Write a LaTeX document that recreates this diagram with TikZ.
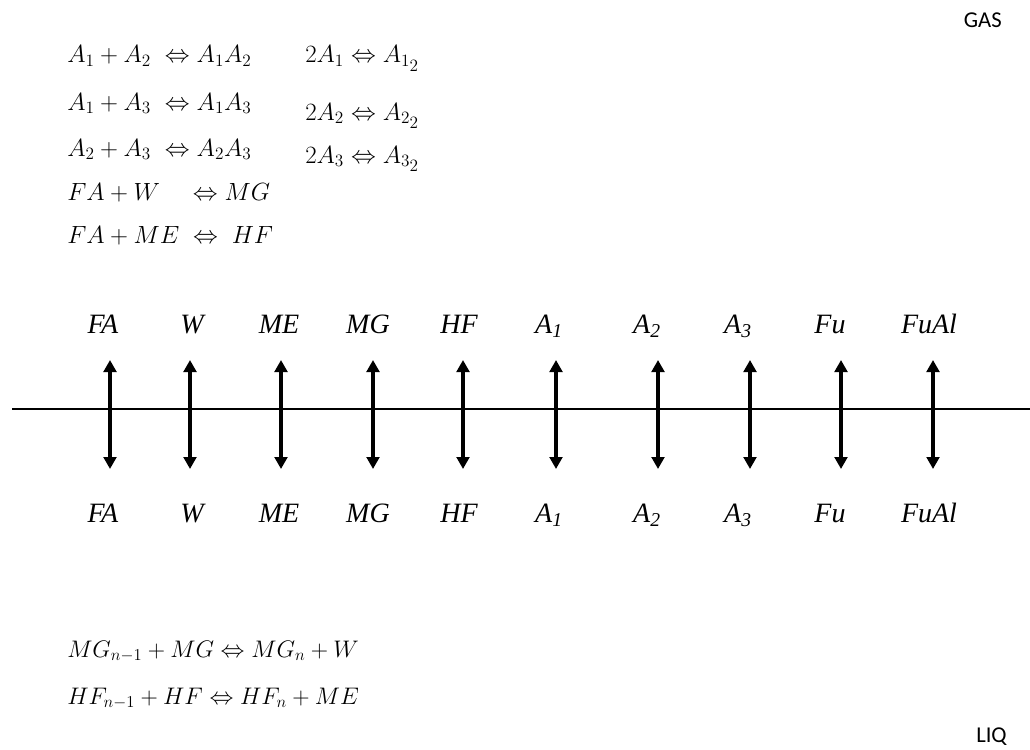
\documentclass[tikz,border=0pt]{standalone}
\usepackage{fontspec}
\usepackage{graphicx}
\newfontfamily\lblfont{Liberation Serif}
\newfontfamily\phasefont{Carlito}
\usetikzlibrary{arrows.meta, positioning}
\newcommand{\eqs}[2][1.08]{\scalebox{#1}{$#2$}}

\begin{document}
\begin{tikzpicture}[x=0.75pt, y=-0.75pt,
    eqn/.style={anchor=base west, inner sep=0pt, font=\fontsize{18}{22}\selectfont},
    spec/.style={anchor=base, inner sep=0pt, font=\lblfont\itshape\fontsize{21}{24}\selectfont},
    phase/.style={anchor=base east, inner sep=0pt, font=\phasefont\fontsize{17}{20}\selectfont},
    flux/.style={line width=2.6pt, {Triangle[length=9pt,width=9.5pt]}-{Triangle[length=9pt,width=9.5pt]}}]
    \useasboundingbox (0,0) rectangle (1030,749);

    % Phase names
    \node[phase] (gas) at (1002,28) {GAS};
    \node[phase] (liq) at (1007,742) {LIQ};

    % Gas phase reactions
    \node[eqn] (g1) at (67,63) {\eqs{A_1+A_2\;\Leftrightarrow A_1A_2}};
    \node[eqn] (g2) at (67,110) {\eqs{A_1+A_3\;\Leftrightarrow A_1A_3}};
    \node[eqn] (g3) at (67,156) {\eqs{A_2+A_3\;\Leftrightarrow A_2A_3}};
    \node[eqn] (g4) at (67,200) {\eqs{FA+W\quad\Leftrightarrow MG}};
    \node[eqn] (g5) at (67,243) {\eqs{FA+ME\;\Leftrightarrow\;HF}};
    \node[eqn] (d1) at (305,63) {\eqs{2A_1\Leftrightarrow A_{1_{\scriptstyle 2}}}};
    \node[eqn] (d2) at (305,120) {\eqs{2A_2\Leftrightarrow A_{2_{\scriptstyle 2}}}};
    \node[eqn] (d3) at (305,163) {\eqs{2A_3\Leftrightarrow A_{3_{\scriptstyle 2}}}};

    % Interface
    \coordinate (ifL) at (12,409);
    \coordinate (ifR) at (1030,409);
    \draw[line width=1.5pt] (ifL) -- (ifR);

    % Species crossing the interface
    \foreach \xa/\xl/\nm/\sp in {110/103/FA/FA, 190/192/W/W, 281/279/ME/ME, 373/368/MG/MG,
        463/459/HF/HF, 556/549/Aone/A\textsubscript{1}, 658/647/Atwo/A\textsubscript{2},
        750/738/Athree/A\textsubscript{3}, 841/830/Fu/Fu, 933/929/FuAl/FuAl} {
        \node[spec] (top\nm) at (\xl,333) {\sp};
        \node[spec] (bot\nm) at (\xl,522) {\sp};
        \coordinate (up\nm) at (\xa,360);
        \coordinate (dn\nm) at (\xa,469);
        \draw[flux] (up\nm) -- (dn\nm);
    }

    % Liquid phase reactions
    \node[eqn] (l1) at (67,657) {\eqs[1.04]{MG_{n-1}+MG\Leftrightarrow MG_n+W}};
    \node[eqn] (l2) at (67,704) {\eqs[1.04]{HF_{n-1}+HF\Leftrightarrow HF_n+ME}};
\end{tikzpicture}
\end{document}
